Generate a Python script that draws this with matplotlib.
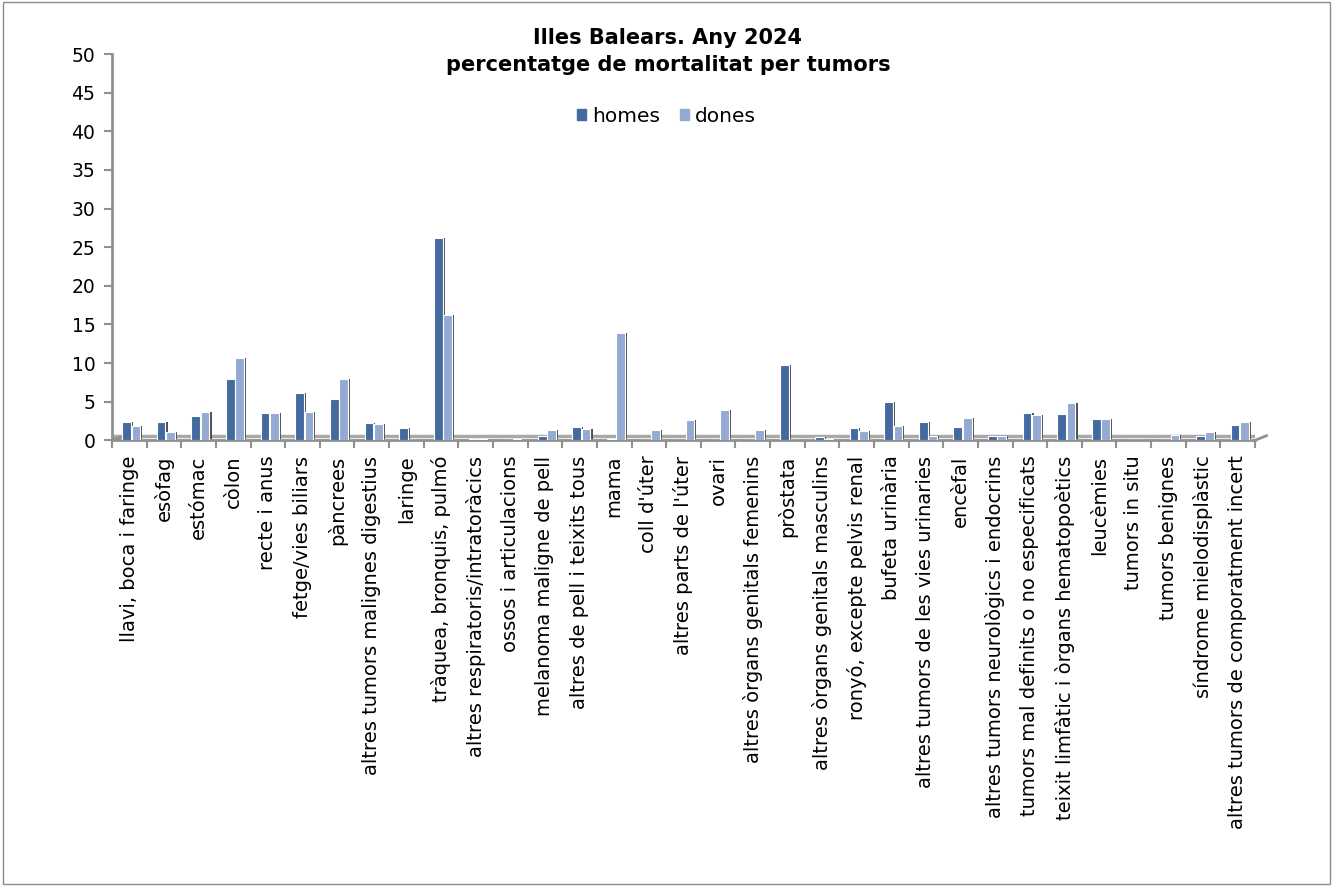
import matplotlib
matplotlib.use("Agg")
import matplotlib.pyplot as plt
from matplotlib.patches import Rectangle
import numpy as np

categories = [
    "llavi, boca i faringe", "esòfag", "estómac", "còlon", "recte i anus",
    "fetge/vies biliars", "pàncrees", "altres tumors malignes digestius",
    "laringe", "tràquea, bronquis, pulmó", "altres respiratoris/intratoràcics",
    "ossos i articulacions", "melanoma maligne de pell",
    "altres de pell i teixits tous", "mama", "coll d'úter",
    "altres parts de l'úter", "ovari", "altres òrgans genitals femenins",
    "pròstata", "altres òrgans genitals masculins",
    "ronyó, excepte pelvis renal", "bufeta urinària",
    "altres tumors de les vies urinaries", "encèfal",
    "altres tumors neurològics i endocrins",
    "tumors mal definits o no especificats",
    "teixit limfàtic i òrgans hematopoètics", "leucèmies", "tumors in situ",
    "tumors benignes", "síndrome mielodisplàstic",
    "altres tumors de comporatment incert",
]

homes = [2.4, 2.4, 3.1, 7.9, 3.5, 6.1, 5.4, 2.2, 1.6, 26.2, 0.2,
         0.1, 0.5, 1.75, 0.2, 0.05, 0.0, 0.0, 0.0, 9.7, 0.45,
         1.6, 5.0, 2.4, 1.75, 0.5, 3.6, 3.4, 2.75, 0.05, 0.1, 0.5, 2.05]
dones = [1.8, 1.1, 3.7, 10.6, 3.5, 3.7, 8.0, 2.1, 0.1, 16.2, 0.2,
         0.2, 1.3, 1.5, 13.9, 1.3, 2.6, 3.9, 1.3, 0.0, 0.2,
         1.2, 1.9, 0.5, 2.9, 0.5, 3.3, 4.8, 2.75, 0.05, 0.75, 1.1, 2.4]

color_homes = "#44699f"
color_dones = "#93aad3"

fig = plt.figure(figsize=(13.33, 8.86), dpi=100)
ax = fig.add_axes([0.084, 0.503, 0.8575, 0.436])

x = np.arange(len(categories))
width = 0.25

# floor line behind the bars
ax.axhline(0.55, color="#a8a8a8", lw=2.5, zorder=0)

for off, vals, col in [(-0.08, homes, color_homes), (0.19, dones, color_dones)]:
    ax.bar(x + off + 0.06, vals, width, color="#505050", zorder=2)
    ax.bar(x + off, vals, width, color=col, edgecolor="white", lw=0.8,
           zorder=3)

ax.set_xlim(-0.5, len(categories) - 0.5)
ax.set_ylim(0, 50)
ax.set_yticks(range(0, 51, 5))
ax.set_xticks(x)
ax.set_xticklabels(categories, rotation=90, fontsize=14)
ax.set_xticks(np.arange(-0.5, len(categories), 1), minor=True)
ax.tick_params(axis="x", which="major", length=0, pad=11)
ax.tick_params(axis="x", which="minor", length=6, color="#909090", width=1.5)
ax.tick_params(axis="y", labelsize=13.5, length=6, color="#909090",
               width=1.5, pad=6)

for side in ["top", "right"]:
    ax.spines[side].set_visible(False)
for side in ["left", "bottom"]:
    ax.spines[side].set_color("#909090")
    ax.spines[side].set_linewidth(2)

# small corner of the floor
ax.plot([0, 0.012], [0, 0.012], transform=ax.transAxes, color="#909090",
        lw=2, clip_on=False)
ax.plot([1, 1.01], [0, 0.012], transform=ax.transAxes, color="#909090",
        lw=2, clip_on=False)

fig.text(0.501, 0.957, "Illes Balears. Any 2024", ha="center", va="center",
         fontsize=15, fontweight="bold")
fig.text(0.501, 0.927, "percentatge de mortalitat per tumors", ha="center",
         va="center", fontsize=15, fontweight="bold")

handles = [Rectangle((0, 0), 1, 1, color=color_homes),
           Rectangle((0, 0), 1, 1, color=color_dones)]
fig.legend(handles, ["homes", "dones"], loc="center",
           bbox_to_anchor=(0.5, 0.869), ncol=2, frameon=False,
           fontsize=14.5, handlelength=0.45, handleheight=0.45,
           handletextpad=0.3, columnspacing=1.0)

fig.patches.append(Rectangle((0.002, 0.002), 0.996, 0.996,
                             transform=fig.transFigure, fill=False,
                             ec="#8c8c8c", lw=1))

plt.savefig("out.png", dpi=100)
